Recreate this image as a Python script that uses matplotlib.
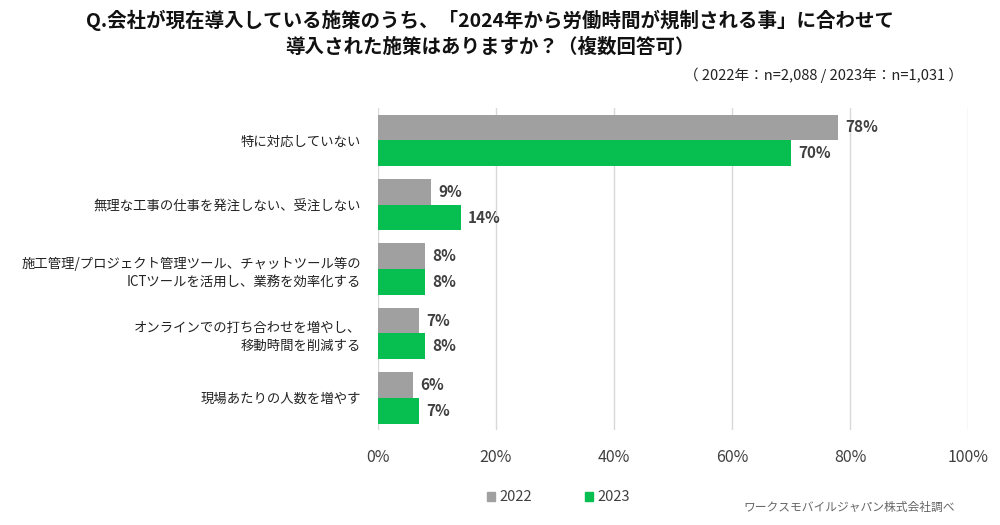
import numpy as np
import matplotlib
matplotlib.use("Agg")
import matplotlib.pyplot as plt
from matplotlib.patches import Rectangle

plt.rcParams['font.family'] = ['Noto Sans CJK JP', 'DejaVu Sans']

categories = [
    "特に対応していない",
    "無理な工事の仕事を発注しない、受注しない",
    "施工管理/プロジェクト管理ツール、チャットツール等の\nICTツールを活用し、業務を効率化する",
    "オンラインでの打ち合わせを増やし、\n移動時間を削減する",
    "現場あたりの人数を増やす",
]
vals_2022 = [78, 9, 8, 7, 6]
vals_2023 = [70, 14, 8, 8, 7]
series_names = ["2022", "2023"]
ticks = [0, 20, 40, 60, 80, 100]

gray = "#a0a0a0"
green = "#07be50"
text_col = "#404040"

fig = plt.figure(figsize=(10, 5.25), dpi=100)
ax = fig.add_axes([0.378, 0.181, 0.59, 0.613])

y = np.arange(len(categories))
h = 0.4
ax.barh(y - h / 2, vals_2022, height=h, color=gray, zorder=3)
ax.barh(y + h / 2, vals_2023, height=h, color=green, zorder=3)

for yi, v in zip(y, vals_2022):
    ax.text(v + 1.2, yi - h / 2, f"{v}%", va="center", ha="left",
            fontsize=11, fontweight="bold", color=text_col)
for yi, v in zip(y, vals_2023):
    ax.text(v + 1.2, yi + h / 2, f"{v}%", va="center", ha="left",
            fontsize=11, fontweight="bold", color=text_col)

ax.set_xlim(0, 100)
ax.set_ylim(len(categories) - 0.5, -0.5)
ax.set_xticks(ticks)
ax.set_xticklabels([f"{t}%" for t in ticks], fontsize=11.5, color=text_col)
ax.set_yticks(y)
ax.set_yticklabels(categories, fontsize=9.6, color="#222222", linespacing=1.35)
ax.tick_params(axis="both", length=0)
ax.tick_params(axis="x", pad=14)
ax.tick_params(axis="y", pad=12)
ax.grid(axis="x", color="#d9d9d9", linewidth=1, zorder=0)
for s in ax.spines.values():
    s.set_visible(False)

fig.text(0.49, 0.962, "Q.会社が現在導入している施策のうち、「2024年から労働時間が規制される事」に合わせて",
         ha="center", va="center", fontsize=14, fontweight="bold", color="#111111")
fig.text(0.49, 0.91, "導入された施策はありますか？（複数回答可）",
         ha="center", va="center", fontsize=14, fontweight="bold", color="#111111")
fig.text(0.963, 0.857, "（ 2022年：n=2,088 / 2023年：n=1,031 ）",
         ha="right", va="center", fontsize=10.5, color="#222222")

# legend
for x0, c, name in [(0.487, gray, series_names[0]), (0.585, green, series_names[1])]:
    fig.patches.append(Rectangle((x0, 0.046), 0.008, 0.016, transform=fig.transFigure,
                                 color=c, figure=fig))
    fig.text(x0 + 0.012, 0.054, name, ha="left", va="center", fontsize=10.5, color=text_col)

fig.text(0.955, 0.033, "ワークスモバイルジャパン株式会社調べ", ha="right", va="center",
         fontsize=8.5, color="#666666")

fig.savefig("out.png", dpi=100, facecolor="white")
